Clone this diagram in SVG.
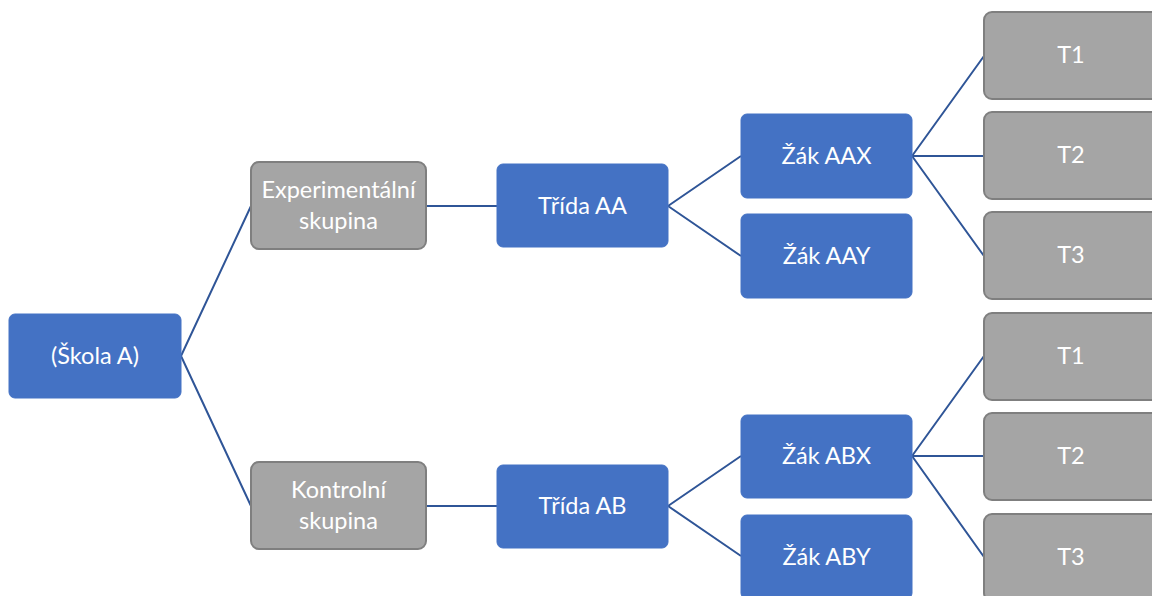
<svg xmlns="http://www.w3.org/2000/svg" width="1152" height="596" viewBox="0 0 1152 596">
  <style>
    .blue rect { fill: #4472C4; stroke: #4472C4; stroke-width: 1; }
    .grey rect { fill: #A5A5A5; stroke: #7F7F7F; stroke-width: 2; }
    text { font-family: Lato, "Noto Sans", sans-serif; font-size: 23.5px; fill: #FFFFFF; text-anchor: middle; dominant-baseline: central; }
    #connectors path { fill: none; stroke: #2F5597; stroke-width: 2; }
  </style>
  <rect width="1152" height="596" fill="#FFFFFF"/>

  <g id="connectors">
    <path d="M181 356 L251 206 M181 356 L251 506"/>
    <path d="M426 206 L497 206 M426 506 L497 506"/>
    <path d="M668 206 L741 156 M668 206 L741 256"/>
    <path d="M668 506 L741 456 M668 506 L741 556"/>
    <path d="M912 156 L984 56 M912 156 L984 156 M912 156 L984 256"/>
    <path d="M912 456 L984 356 M912 456 L984 456 M912 456 L984 557"/>
  </g>

  <g id="skola-a" class="blue">
    <rect x="9" y="314" width="172" height="84" rx="6"/>
    <text x="95" y="355">(Škola A)</text>
  </g>

  <g id="experimentalni-skupina" class="grey">
    <rect x="251" y="162" width="175" height="87" rx="8"/>
    <text x="338.5" y="189">Experimentální</text>
    <text x="338.5" y="220">skupina</text>
  </g>
  <g id="kontrolni-skupina" class="grey">
    <rect x="251" y="462" width="175" height="87" rx="8"/>
    <text x="338.5" y="489">Kontrolní</text>
    <text x="338.5" y="520">skupina</text>
  </g>

  <g id="trida-aa" class="blue">
    <rect x="497" y="164" width="171" height="83" rx="6"/>
    <text x="582.5" y="205">Třída AA</text>
  </g>
  <g id="trida-ab" class="blue">
    <rect x="497" y="465" width="171" height="83" rx="6"/>
    <text x="582.5" y="505">Třída AB</text>
  </g>

  <g id="zak-aax" class="blue">
    <rect x="741" y="114" width="171" height="84" rx="6"/>
    <text x="826.5" y="155">Žák AAX</text>
  </g>
  <g id="zak-aay" class="blue">
    <rect x="741" y="214" width="171" height="84" rx="6"/>
    <text x="826.5" y="255">Žák AAY</text>
  </g>
  <g id="zak-abx" class="blue">
    <rect x="741" y="415" width="171" height="83" rx="6"/>
    <text x="826.5" y="455">Žák ABX</text>
  </g>
  <g id="zak-aby" class="blue">
    <rect x="741" y="515" width="171" height="84" rx="6"/>
    <text x="826.5" y="556">Žák ABY</text>
  </g>

  <g id="aax-t1" class="grey">
    <rect x="984" y="12" width="175" height="87" rx="8"/>
    <text x="1071" y="54">T1</text>
  </g>
  <g id="aax-t2" class="grey">
    <rect x="984" y="112" width="175" height="87" rx="8"/>
    <text x="1071" y="154">T2</text>
  </g>
  <g id="aax-t3" class="grey">
    <rect x="984" y="212" width="175" height="87" rx="8"/>
    <text x="1071" y="254">T3</text>
  </g>
  <g id="abx-t1" class="grey">
    <rect x="984" y="313" width="175" height="87" rx="8"/>
    <text x="1071" y="355">T1</text>
  </g>
  <g id="abx-t2" class="grey">
    <rect x="984" y="413" width="175" height="87" rx="8"/>
    <text x="1071" y="455">T2</text>
  </g>
  <g id="abx-t3" class="grey">
    <rect x="984" y="514" width="175" height="87" rx="8"/>
    <text x="1071" y="556">T3</text>
  </g>
</svg>
